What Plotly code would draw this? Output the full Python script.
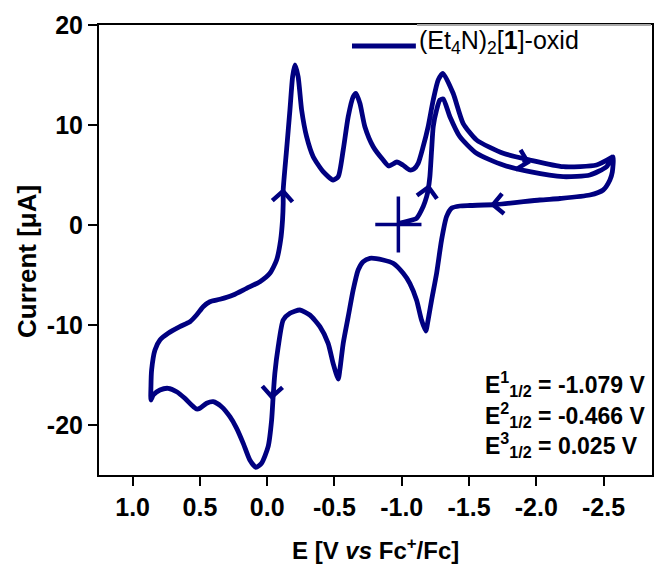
import plotly.graph_objects as go

# ---- data (E in V vs Fc+/Fc, current in uA) ----
# sweep 1: from start point to the negative vertex
E_sweep1 = [-0.981, -0.986, -1.110, -1.159, -1.185, -1.196, -1.209, -1.222, -1.234, -1.259,
            -1.283, -1.308, -1.358, -1.432, -1.556, -1.754, -1.952, -2.200, -2.398, -2.522, -2.571]
I_sweep1 = [0.0, 0.17, 0.67, 1.83, 2.83, 3.5, 4.83, 7.5, 9.83, 11.5,
            12.5, 12.6, 10.83, 8.83, 7.17, 6.0, 5.33, 4.83, 5.0, 5.83, 6.8]
# sweep 2: return scan toward positive potentials
E_sweep2 = [-2.565, -2.547, -2.497, -2.398, -2.175, -2.026, -1.707, -1.506, -1.432, -1.372,
            -1.333, -1.296, -1.259, -1.222, -1.196, -1.179, -1.147, -1.110, -1.060, -1.011,
            -0.936, -0.862, -0.763, -0.713, -0.676, -0.639, -0.602, -0.565, -0.540, -0.528,
            -0.490, -0.453, -0.392, -0.317, -0.243, -0.169, -0.119, -0.082, -0.057, -0.045,
            -0.033, -0.007, 0.042, 0.084, 0.129, 0.178, 0.227, 0.277, 0.339, 0.401,
            0.450, 0.500, 0.525, 0.562, 0.612, 0.673, 0.736, 0.797, 0.847, 0.864]
I_sweep2 = [5.3, 4.5, 3.5, 3.0, 2.65, 2.5, 2.05, 1.95, 1.9, 1.7,
            0.83, -1.5, -4.83, -7.5, -9.5, -10.6, -9.5, -7.5, -5.83, -4.83,
            -3.83, -3.5, -3.33, -3.67, -4.5, -6.5, -9.17, -11.83, -14.5, -15.4,
            -13.83, -11.83, -10.17, -9.0, -8.5, -8.83, -9.5, -12.17, -14.83, -17.0,
            -19.5, -22.17, -23.83, -24.23, -23.5, -21.83, -20.33, -19.17, -18.17, -17.67,
            -17.83, -18.33, -18.4, -18.0, -17.33, -16.67, -16.33, -16.5, -17.0, -17.5]
# sweep 3: forward scan back to the negative vertex
E_sweep3 = [0.864, 0.859, 0.834, 0.797, 0.736, 0.649, 0.574, 0.525, 0.476, 0.426,
            0.351, 0.253, 0.153, 0.054, -0.020, -0.070, -0.100, -0.114, -0.119, -0.119,
            -0.144, -0.169, -0.189, -0.206, -0.230, -0.256, -0.293, -0.342, -0.416, -0.490,
            -0.528, -0.565, -0.602, -0.639, -0.659, -0.689, -0.726, -0.788, -0.862, -0.904,
            -0.964, -1.008, -1.060, -1.090, -1.122, -1.159, -1.196, -1.234, -1.271, -1.306,
            -1.382, -1.456, -1.556, -1.754, -1.952, -2.200, -2.448, -2.571]
I_sweep3 = [-16.17, -14.5, -12.5, -11.5, -10.83, -10.17, -9.67, -9.0, -8.17, -7.67,
            -7.43, -7.0, -6.33, -5.67, -4.83, -3.5, -1.5, 0.5, 2.17, 3.5,
            7.5, 11.5, 14.83, 16.0, 14.83, 11.5, 8.83, 6.83, 5.33, 4.5,
            4.83, 7.5, 10.83, 12.83, 13.17, 12.17, 9.83, 7.83, 6.5, 5.9,
            6.3, 6.0, 5.5, 5.6, 6.17, 7.83, 9.83, 12.5, 14.5, 15.17,
            13.17, 10.17, 8.5, 7.17, 6.5, 5.83, 6.0, 6.83]

# start point of the scan (cross marker)
start_E = [-0.975]
start_I = [0.05]

# scan-direction arrows: position on curve and direction (tail offset dx, dy in px)
arrow_E = [-1.203, -0.119, -0.033, -1.960, -1.655]
arrow_I = [4.1, 3.7, -17.5, 6.2, 2.0]
arrow_dx = [-1.6, -0.6, 0.6, -10, 10]
arrow_dy = [10, 10, -10, -2.5, -1]

x_tickvals = [1.0, 0.5, 0.0, -0.5, -1.0, -1.5, -2.0, -2.5]
x_ticktext = ["1.0", "0.5", "0.0", "-0.5", "-1.0", "-1.5", "-2.0", "-2.5"]
y_tickvals = [20, 10, 0, -10, -20]
y_ticktext = ["20", "10", "0", "-10", "-20"]

half_wave = [("1", "-1.079"), ("2", "-0.466"), ("3", "0.025")]
series_name = "(Et<sub>4</sub>N)<sub>2</sub>[<b>1</b>]-oxid"

NAVY = "#000080"
FONT = "Liberation Sans, Arial, sans-serif"

E_all = E_sweep1 + E_sweep2 + E_sweep3
I_all = I_sweep1 + I_sweep2 + I_sweep3

fig = go.Figure()
fig.add_trace(go.Scatter(x=E_all, y=I_all, mode="lines",
                         line=dict(color=NAVY, width=4.8, shape="spline", smoothing=0.6),
                         showlegend=False, hoverinfo="skip"))
fig.add_trace(go.Scatter(x=start_E, y=start_I, mode="markers",
                         marker=dict(symbol="line-ew", size=33, line=dict(color=NAVY, width=3.5)),
                         showlegend=False, hoverinfo="skip"))
fig.add_trace(go.Scatter(x=start_E, y=start_I, mode="markers",
                         marker=dict(symbol="line-ns", size=40, line=dict(color=NAVY, width=3.5)),
                         showlegend=False, hoverinfo="skip"))

annotations = []
for xe, yi, dx, dy in zip(arrow_E, arrow_I, arrow_dx, arrow_dy):
    annotations.append(dict(x=xe, y=yi, xref="x", yref="y", text="", showarrow=True,
                            ax=dx, ay=dy, arrowhead=4, arrowsize=1.3, arrowwidth=3,
                            arrowcolor=NAVY))

# half-wave potentials
ys = [0.202, 0.133, 0.066]
for (k, v), yy in zip(half_wave, ys):
    annotations.append(dict(x=0.694, y=yy, xref="paper", yref="paper", xanchor="left",
                            yanchor="middle", showarrow=False,
                            text=f"<b>E<sup>{k}</sup><sub>1/2</sub> = {v} V</b>",
                            font=dict(family=FONT, size=23, color="black")))

# axis titles
annotations.append(dict(x=0.5, y=-0.164, xref="paper", yref="paper", showarrow=False,
                        xanchor="center", yanchor="middle",
                        text="<b>E [V <i>vs</i> Fc<sup>+</sup>/Fc]</b>",
                        font=dict(family=FONT, size=24, color="black")))
annotations.append(dict(x=-0.129, y=0.475, xref="paper", yref="paper", showarrow=False,
                        xanchor="center", yanchor="middle", textangle=-90,
                        text="<b>Current [μA]</b>",
                        font=dict(family=FONT, size=26, color="black")))
# legend text
annotations.append(dict(x=0.575, y=0.962, xref="paper", yref="paper", showarrow=False,
                        xanchor="left", yanchor="middle", text=series_name,
                        font=dict(family=FONT, size=25, color="black")))

shapes = [
    dict(type="line", xref="paper", yref="paper", x0=0.4575, x1=0.573, y0=0.9533, y1=0.9533,
         line=dict(color=NAVY, width=4.8)),
    dict(type="line", xref="paper", yref="paper", x0=0.575, x1=0.998, y0=1, y1=1,
         line=dict(color="#a8a8a8", width=2)),
]

axis_common = dict(showgrid=False, zeroline=False, showline=True, linecolor="black",
                   linewidth=2, mirror=True, ticks="outside", ticklen=9, tickwidth=2,
                   tickcolor="black",
                   tickfont=dict(family=FONT, size=25, color="black", weight="bold"))

fig.update_layout(
    width=668, height=571,
    margin=dict(l=99, r=16, t=25, b=96),
    paper_bgcolor="white", plot_bgcolor="white",
    xaxis=dict(range=[1.25, -2.86], tickvals=x_tickvals, ticktext=x_ticktext, **axis_common),
    yaxis=dict(range=[-25, 20], tickvals=y_tickvals, ticktext=y_ticktext, **axis_common),
    annotations=annotations,
    shapes=shapes,
    showlegend=False,
)

fig.write_html("out.html")
